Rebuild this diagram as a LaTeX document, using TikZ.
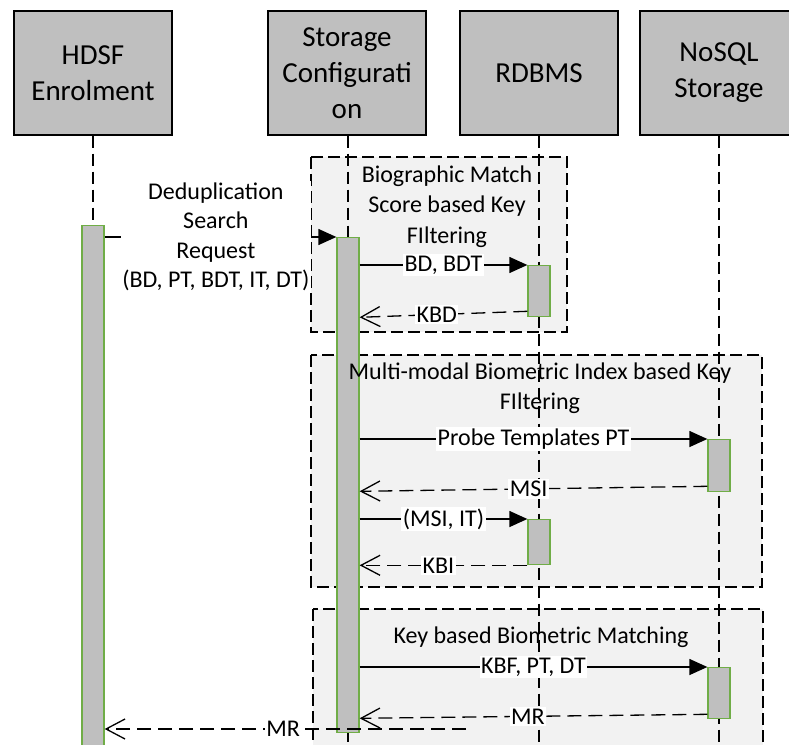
\documentclass[tikz,border=0pt]{standalone}
\usepackage{fontspec}
\setmainfont{Carlito}
\usetikzlibrary{arrows.meta,calc}
\definecolor{boxgray}{HTML}{BFBFBF}
\definecolor{bargreen}{HTML}{70AD47}
\definecolor{fragfill}{HTML}{F2F2F2}
\begin{document}
\begin{tikzpicture}[x=1pt,y=-1pt,
  actor/.style={draw=black, fill=boxgray, line width=1.3pt, minimum width=158pt, minimum height=124pt, align=center, font=\fontsize{29}{36}\selectfont, inner sep=0pt},
  bar/.style={draw=bargreen, fill=boxgray, line width=1.3pt, minimum width=22pt, inner sep=0pt, anchor=north},
  lifeline/.style={line width=1.3pt, dash pattern=on 12pt off 6pt},
  frag/.style={draw=black, fill=fragfill, line width=1.3pt, dash pattern=on 12pt off 5pt},
  fragtitle/.style={align=center, font=\fontsize{24}{30.5}\selectfont, inner sep=0pt},
  msg/.style={line width=1.3pt, -{Triangle[length=18pt,width=16pt]}},
  ret/.style={line width=1.3pt, dash pattern=on 14pt off 7pt, -{Straight Barb[length=19pt,width=20pt]}},
  lbl/.style={fill=white, inner xsep=1.5pt, inner ysep=2pt, font=\fontsize{24}{29.5}\selectfont}
]
\useasboundingbox (0,0) rectangle (789,744);
\clip (0,0) rectangle (789,744);

% combined fragments
\draw[frag] (311,157) rectangle (567,332);
\draw[frag] (311,355) rectangle (762,587);
\draw[frag] (313,609) rectangle (763,748);

% actors
\node[actor] (hdsf) at (93,73) {HDSF\\Enrolment};
\node[actor] (stc) at (347,73) {Storage\\Configurati\\on};
\node[actor] (rdb) at (539,73) {RDBMS};
\node[actor] (nos) at (719,73) {NoSQL\\Storage};

% lifeline ends
\coordinate (hdsfEnd) at (93,750);
\coordinate (stcEnd) at (348,750);
\coordinate (rdbEnd) at (539,750);
\coordinate (nosEnd) at (719,750);

\draw[lifeline] (hdsf.south -| hdsfEnd) -- (hdsfEnd);
\draw[lifeline] (stc.south -| stcEnd) -- (stcEnd);
\draw[lifeline] (rdb.south -| rdbEnd) -- (rdbEnd);
\draw[lifeline] (nos.south -| nosEnd) -- (nosEnd);

% activation bars
\node[bar, minimum height=530pt] (hdsfbar) at (93,225) {};
\node[bar, minimum height=495pt] (scbar) at (348,237) {};
\node[bar, minimum height=51pt] (rd1) at (539,265) {};
\node[bar, minimum height=52pt] (ns1) at (719,439) {};
\node[bar, minimum height=45pt] (rd2) at (539,519) {};
\node[bar, minimum height=51pt] (ns2) at (719,667) {};

% fragment titles
\node[fragtitle] (t1) at (447,206.5) {Biographic Match\\Score based Key\\FIltering};
\node[fragtitle] (t2) at (540,388) {Multi-modal Biometric Index based Key\\FIltering};
\node[fragtitle] (t3) at (541,637) {Key based Biometric Matching};

% messages
\draw[msg] (hdsfbar.east |- scbar.north) -- node[lbl, align=center, pos=0.48]{Deduplication\\Search\\Request\\(BD, PT, BDT, IT, DT)} (scbar.north west);
\draw[msg] (scbar.east |- rd1.north) -- node[lbl]{BD, BDT} (rd1.north west);
\draw[ret] ($(rd1.south west)+(0,-6)$) -- node[lbl, pos=0.54]{KBD} (scbar.east |- rd1.south);
\draw[msg] (scbar.east |- ns1.north) -- node[lbl]{Probe Templates PT} (ns1.north west);
\draw[ret] ($(ns1.south west)+(0,-6)$) -- node[lbl, pos=0.514]{MSI} ($(scbar.east |- ns1.south)+(0,-1)$);
\draw[msg] (scbar.east |- rd2.north) -- node[lbl]{(MSI, IT)} (rd2.north west);
\draw[ret] (rd2.south west) -- node[lbl, pos=0.53]{KBI} (scbar.east |- rd2.south);
\draw[msg] (scbar.east |- ns2.north) -- node[lbl]{KBF, PT, DT} (ns2.north west);
\draw[ret] ($(ns2.south west)+(0,-5)$) -- node[lbl, pos=0.516]{MR} ($(scbar.east |- ns2.south)+(0,-1)$);
\coordinate (mrstart) at (466,729);
\draw[ret] (mrstart) -- node[lbl, pos=0.506]{MR} (hdsfbar.east |- mrstart);
\end{tikzpicture}
\end{document}
